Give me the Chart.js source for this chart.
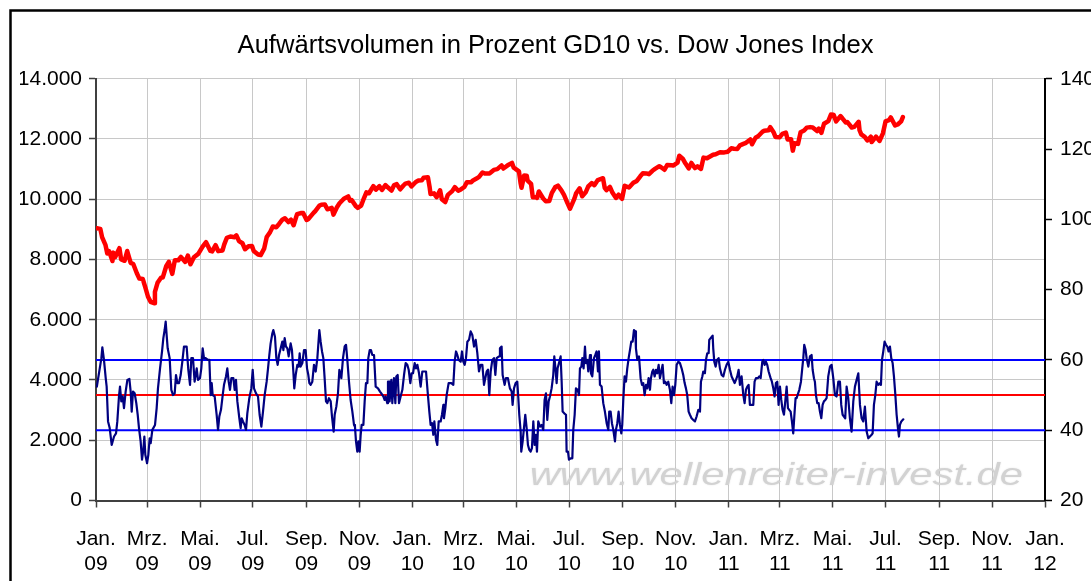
<!DOCTYPE html>
<html>
<head>
<meta charset="utf-8">
<title>Aufwärtsvolumen in Prozent GD10 vs. Dow Jones Index</title>
<script src="https://cdn.jsdelivr.net/npm/chart.js@4.4.1/dist/chart.umd.min.js"></script>
<style>
  html, body { margin: 0; padding: 0; background: #fff; }
  #wrap { position: relative; width: 1091px; height: 581px; }
</style>
</head>
<body>
<div id="wrap"><canvas id="chart" width="1091" height="581"></canvas></div>
<script>
// Dow Jones Index (linke Achse)
var dowDates = [
	'2009-01-02','2009-01-06','2009-01-08','2009-01-12','2009-01-14','2009-01-16','2009-01-20','2009-01-21','2009-01-23','2009-01-28',
	'2009-01-30','2009-02-03','2009-02-06','2009-02-10','2009-02-13','2009-02-17','2009-02-20','2009-02-24','2009-02-27','2009-03-02',
	'2009-03-05','2009-03-09','2009-03-10','2009-03-13','2009-03-17','2009-03-19','2009-03-23','2009-03-26','2009-03-30','2009-04-02',
	'2009-04-06','2009-04-09','2009-04-14','2009-04-17','2009-04-20','2009-04-24','2009-04-29','2009-05-04','2009-05-08','2009-05-13',
	'2009-05-15','2009-05-19','2009-05-22','2009-05-27','2009-05-29','2009-06-01','2009-06-05','2009-06-10','2009-06-12','2009-06-15',
	'2009-06-19','2009-06-22','2009-06-26','2009-06-30','2009-07-02','2009-07-07','2009-07-10','2009-07-14','2009-07-17','2009-07-21',
	'2009-07-24','2009-07-28','2009-07-31','2009-08-04','2009-08-07','2009-08-11','2009-08-14','2009-08-17','2009-08-21','2009-08-26',
	'2009-08-28','2009-09-01','2009-09-03','2009-09-09','2009-09-11','2009-09-16','2009-09-18','2009-09-22','2009-09-25','2009-09-30',
	'2009-10-02','2009-10-06','2009-10-09','2009-10-14','2009-10-19','2009-10-21','2009-10-23','2009-10-28','2009-10-30','2009-11-03',
	'2009-11-06','2009-11-09','2009-11-12','2009-11-17','2009-11-20','2009-11-24','2009-11-27','2009-12-01','2009-12-04','2009-12-08',
	'2009-12-11','2009-12-14','2009-12-18','2009-12-22','2009-12-24','2009-12-28','2009-12-31','2010-01-05','2010-01-08','2010-01-12',
	'2010-01-14','2010-01-19','2010-01-21','2010-01-22','2010-01-26','2010-01-29','2010-02-02','2010-02-04','2010-02-08','2010-02-11',
	'2010-02-16','2010-02-19','2010-02-23','2010-02-26','2010-03-02','2010-03-05','2010-03-10','2010-03-12','2010-03-16','2010-03-19',
	'2010-03-23','2010-03-26','2010-03-31','2010-04-05','2010-04-09','2010-04-14','2010-04-16','2010-04-21','2010-04-26','2010-04-28',
	'2010-04-30','2010-05-04','2010-05-06','2010-05-07','2010-05-10','2010-05-13','2010-05-14','2010-05-18','2010-05-20','2010-05-24',
	'2010-05-25','2010-05-27','2010-06-01','2010-06-04','2010-06-08','2010-06-11','2010-06-15','2010-06-18','2010-06-22','2010-06-25',
	'2010-06-29','2010-07-02','2010-07-07','2010-07-09','2010-07-13','2010-07-16','2010-07-20','2010-07-23','2010-07-27','2010-07-30',
	'2010-08-03','2010-08-09','2010-08-11','2010-08-13','2010-08-17','2010-08-20','2010-08-24','2010-08-27','2010-08-31','2010-09-03',
	'2010-09-08','2010-09-13','2010-09-17','2010-09-21','2010-09-24','2010-09-28','2010-10-01','2010-10-05','2010-10-08','2010-10-13',
	'2010-10-15','2010-10-19','2010-10-22','2010-10-27','2010-10-29','2010-11-03','2010-11-05','2010-11-09','2010-11-12','2010-11-16',
	'2010-11-19','2010-11-23','2010-11-26','2010-11-30','2010-12-03','2010-12-07','2010-12-10','2010-12-14','2010-12-17','2010-12-22',
	'2010-12-27','2010-12-31','2011-01-04','2011-01-07','2011-01-11','2011-01-14','2011-01-18','2011-01-21','2011-01-26','2011-01-28',
	'2011-02-01','2011-02-04','2011-02-09','2011-02-11','2011-02-16','2011-02-18','2011-02-22','2011-02-24','2011-03-01','2011-03-04',
	'2011-03-08','2011-03-10','2011-03-14','2011-03-16','2011-03-18','2011-03-22','2011-03-25','2011-03-29','2011-04-01','2011-04-05',
	'2011-04-08','2011-04-13','2011-04-15','2011-04-18','2011-04-21','2011-04-26','2011-04-29','2011-05-02','2011-05-05','2011-05-10',
	'2011-05-12','2011-05-16','2011-05-18','2011-05-23','2011-05-26','2011-05-31','2011-06-01','2011-06-03','2011-06-07','2011-06-10',
	'2011-06-14','2011-06-15','2011-06-20','2011-06-24','2011-06-28','2011-07-01','2011-07-05','2011-07-07','2011-07-12','2011-07-15',
	'2011-07-19','2011-07-21'
];
var dowValues = [
	9034, 9015, 8742, 8474, 8200, 8281, 7949, 8228, 8077, 8375,
	8001, 7957, 8280, 7888, 7850, 7552, 7366, 7351, 7063, 6763,
	6594, 6547, 6926, 7224, 7395, 7400, 7776, 7924, 7523, 7978,
	7975, 8083, 7920, 8131, 7841, 8076, 8185, 8426, 8575, 8284,
	8268, 8475, 8277, 8300, 8500, 8721, 8763, 8739, 8799, 8612,
	8539, 8339, 8438, 8447, 8280, 8163, 8146, 8359, 8743, 8916,
	9093, 9070, 9172, 9320, 9370, 9242, 9321, 9136, 9506, 9543,
	9544, 9310, 9345, 9547, 9605, 9792, 9820, 9829, 9666, 9712,
	9488, 9732, 9865, 10016, 10093, 9950, 9972, 9763, 9713, 9789,
	10023, 10227, 10198, 10437, 10318, 10433, 10310, 10472, 10389, 10286,
	10471, 10501, 10329, 10464, 10520, 10548, 10428, 10573, 10619, 10627,
	10711, 10726, 10390, 10173, 10194, 10067, 10297, 10002, 9908, 10144,
	10268, 10402, 10283, 10325, 10405, 10567, 10567, 10625, 10686, 10742,
	10889, 10851, 10857, 10974, 10998, 11124, 11019, 11125, 11205, 11046,
	11009, 10926, 10520, 10380, 10785, 10782, 10620, 10510, 10068, 10067,
	10043, 10258, 10025, 9931, 9940, 10212, 10405, 10450, 10294, 10143,
	9870, 9686, 10019, 10198, 10364, 10097, 10230, 10424, 10537, 10466,
	10636, 10698, 10379, 10303, 10406, 10213, 10041, 10150, 10015, 10448,
	10388, 10544, 10607, 10761, 10860, 10858, 10830, 10944, 11006, 11096,
	11063, 10978, 11133, 11127, 11118, 11215, 11445, 11346, 11193, 11024,
	11204, 11036, 11092, 11006, 11382, 11360, 11410, 11476, 11492, 11559,
	11555, 11578, 11691, 11674, 11671, 11787, 11837, 11871, 11985, 11824,
	12040, 12092, 12240, 12273, 12288, 12391, 12213, 12068, 12058, 12169,
	12214, 11984, 11993, 11613, 11858, 11837, 12220, 12280, 12376, 12394,
	12380, 12263, 12342, 12201, 12505, 12595, 12811, 12808, 12584, 12761,
	12695, 12548, 12560, 12381, 12402, 12570, 12290, 12151, 12070, 11952,
	12076, 11897, 12080, 11934, 12188, 12582, 12626, 12719, 12447, 12480,
	12587, 12724
];

// Aufwärtsvolumen in Prozent, GD10 (rechte Achse) - Tage seit 01.01.2009
var gdDays = [
	1, 6.2, 7.3, 9.2, 11.2, 12.3, 13.9, 15.8, 18.1, 20.8,
	23.1, 24.6, 26.5, 27.7, 29.2, 30.8, 32.3, 34.2, 36.2, 38.5,
	40.0, 41.2, 42.7, 44.6, 46.5, 48.1, 49.6, 51.5, 53.1, 54.6,
	55.8, 56.9, 58.9, 60.4, 61.9, 63.1, 65.0, 68.1, 70.0, 71.5,
	73.9, 76.2, 77.7, 79.2, 80.4, 81.5, 82.7, 85.0, 86.9, 88.9,
	90.8, 92.3, 93.9, 95.8, 97.7, 99.6, 101.5, 104.6, 106.5, 108.5,
	110.0, 111.9, 113.8, 116.2, 117.7, 120.0, 121.5, 123.1, 124.6, 126.5,
	129.2, 130.8, 132.3, 133.5, 134.6, 136.9, 139.2, 140.8, 142.3, 144.2,
	146.2, 147.7, 150.0, 151.5, 153.1, 154.6, 156.2, 158.5, 160.0, 161.5,
	163.1, 165.4, 166.9, 168.1, 169.6, 171.5, 173.1, 174.6, 176.9, 179.2,
	180.8, 182.3, 184.6, 186.9, 188.8, 190.8, 192.7, 194.6, 196.9, 198.5,
	200.0, 201.5, 203.5, 204.6, 206.5, 208.1, 209.6, 211.2, 213.1, 215.0,
	216.2, 217.7, 219.2, 220.8, 222.3, 224.6, 226.1, 227.7, 228.8, 230.4,
	232.3, 233.8, 235.0, 236.1, 238.1, 240.0, 241.9, 243.5, 245.0, 246.2,
	247.7, 249.6, 251.5, 253.5, 255.4, 257.7, 259.2, 260.8, 262.3, 263.8,
	265.4, 266.9, 268.8, 270.8, 272.3, 274.2, 275.4, 277.3, 279.2, 280.8,
	283.1, 285.0, 286.9, 288.5, 290.0, 291.9, 293.8, 295.8, 297.7, 298.8,
	300.0, 301.5, 302.7, 304.2, 305.4, 306.5, 308.5, 310.0, 311.5, 313.1,
	314.2, 315.8, 317.3, 318.8, 320.8, 322.7, 325.4, 327.7, 329.2, 331.5,
	333.1, 334.2, 336.1, 336.9, 338.1, 338.8, 340.8, 341.9, 343.8, 345.4,
	346.5, 348.1, 349.6, 351.5, 353.5, 355.4, 357.3, 359.2, 360.8, 362.7,
	364.2, 365.8, 367.7, 369.2, 370.8, 372.7, 374.6, 376.5, 378.5, 380.8,
	383.1, 384.6, 386.1, 387.7, 389.2, 390.4, 392.3, 393.8, 395.4, 397.7,
	399.2, 400.8, 401.5, 403.1, 404.6, 406.9, 410.0, 412.3, 413.8, 415.4,
	416.9, 418.5, 420.8, 422.3, 423.8, 425.4, 426.9, 428.5, 430.4, 432.3,
	434.2, 436.2, 438.1, 440.0, 441.9, 443.8, 445.8, 447.7, 449.6, 450.8,
	452.3, 453.8, 455.4, 457.3, 459.2, 460.8, 462.3, 465.0, 466.1, 468.0,
	469.2, 471.5, 473.0, 475.3, 477.6, 479.6, 480.7, 482.3, 484.2, 486.1,
	487.3, 488.4, 490.0, 490.7, 492.3, 493.8, 495.3, 496.9, 498.4, 500.0,
	501.5, 503.0, 504.6, 506.1, 507.6, 508.8, 510.3, 512.3, 514.2, 516.1,
	517.6, 519.2, 520.7, 522.3, 523.8, 525.7, 527.6, 528.8, 530.3, 531.5,
	532.6, 534.6, 536.1, 537.3, 538.4, 540.3, 542.3, 543.0, 544.6, 545.7,
	547.6, 549.6, 550.7, 552.3, 553.8, 555.7, 557.3, 558.4, 560.0, 561.1,
	562.6, 564.2, 565.3, 566.9, 568.0, 570.0, 571.1, 572.6, 574.6, 576.1,
	577.6, 579.2, 580.3, 581.5, 583.4, 585.3, 587.2, 589.2, 591.1, 592.2,
	593.8, 595.3, 596.9, 598.8, 599.9, 601.5, 603.0, 604.6, 606.1, 607.2,
	608.4, 609.9, 611.5, 613.0, 614.6, 616.1, 617.6, 619.2, 620.7, 622.2,
	623.0, 624.6, 626.5, 628.4, 630.0, 631.5, 633.0, 634.6, 636.1, 637.6,
	639.2, 640.3, 641.9, 643.0, 644.6, 646.1, 647.6, 649.2, 650.7, 652.2,
	653.8, 655.3, 656.9, 658.4, 660.3, 662.2, 663.8, 665.3, 666.9, 668.4,
	670.0, 671.9, 673.8, 675.7, 677.6, 679.2, 680.7, 682.2, 683.8, 685.3,
	687.2, 689.2, 691.1, 693.0, 695.0, 696.9, 698.0, 699.6, 700.7, 702.6,
	703.8, 705.3, 706.9, 707.6, 709.2, 711.5, 712.2, 713.4, 715.0, 716.5,
	718.4, 719.9, 721.9, 723.8, 725.7, 727.6, 729.6, 731.5, 733.4, 735.3,
	736.9, 738.4, 739.9, 741.5, 743.0, 744.9, 746.9, 748.4, 749.9, 751.5,
	753.0, 754.5, 756.5, 758.4, 759.9, 761.5, 763.8, 765.3, 766.9, 768.8,
	769.9, 771.5, 773.0, 774.5, 776.1, 778.4, 779.9, 781.5, 783.0, 784.5,
	786.1, 787.6, 789.2, 790.7, 792.2, 793.8, 795.3, 796.9, 798.4, 799.9,
	801.5, 803.0, 804.5, 806.1, 807.2, 808.4, 809.5, 811.5, 813.4, 814.9,
	816.1, 817.2, 818.8, 819.9, 821.9, 823.8, 825.7, 826.9, 828.4, 829.5,
	830.7, 832.2, 833.8, 835.3, 836.9, 838.4, 839.9, 841.5, 843.0, 844.9,
	846.9, 848.8, 850.7, 852.6, 854.5, 856.5, 858.4, 859.9, 861.5, 863.0,
	864.5, 866.1, 868.0, 869.9, 871.8, 873.8, 875.7, 877.6, 879.6, 881.5,
	883.4, 885.3, 887.2, 889.2, 891.1, 893.0, 894.9, 896.1, 897.6, 899.2,
	900.7, 902.6, 904.6, 905.7, 906.9, 908.4, 909.9, 911.5, 913.0, 914.5,
	916.1, 917.6, 919.2, 920.7, 922.2, 923.8, 925.3, 926.5, 927.6, 929.2,
	931.5
];
var gdValues = [
	52.4, 60.5, 63.6, 60.0, 54.8, 52.4, 42.5, 40.6, 35.8, 38.2,
	39.1, 42.5, 49.6, 52.4, 48.2, 49.6, 46.3, 51.0, 54.3, 54.6,
	51.0, 45.3, 51.0, 50.5, 47.7, 44.4, 40.6, 36.8, 31.6, 34.4,
	38.2, 33.0, 30.6, 33.0, 37.7, 36.3, 40.1, 41.5, 46.3, 51.9,
	57.6, 62.4, 66.2, 68.5, 70.9, 67.1, 63.3, 60.5, 51.5, 50.0,
	50.5, 55.7, 53.4, 53.4, 55.7, 59.5, 63.8, 63.8, 57.2, 52.9,
	60.5, 60.5, 53.8, 57.6, 54.3, 54.8, 57.6, 63.3, 60.5, 60.5,
	60.0, 60.0, 50.0, 53.4, 50.0, 49.6, 44.4, 40.1, 43.9, 45.8,
	50.0, 52.9, 55.3, 57.6, 53.8, 51.5, 54.8, 54.8, 51.5, 54.3,
	48.2, 43.4, 40.6, 43.4, 42.5, 41.5, 40.1, 44.8, 49.1, 51.9,
	57.2, 51.9, 50.5, 49.6, 44.4, 41.0, 45.3, 50.0, 53.8, 57.6,
	61.4, 64.7, 67.6, 68.5, 66.6, 60.5, 58.6, 61.4, 63.3, 65.2,
	62.8, 66.2, 63.8, 63.3, 61.0, 64.7, 62.8, 56.7, 51.9, 55.7,
	58.6, 58.1, 61.9, 58.1, 59.1, 62.8, 62.8, 57.6, 55.7, 53.4,
	52.9, 53.8, 58.6, 56.7, 60.5, 68.5, 65.2, 62.4, 60.5, 54.8,
	48.2, 47.7, 49.1, 48.2, 43.9, 39.6, 44.4, 46.7, 50.5, 57.2,
	54.8, 60.5, 63.8, 64.3, 60.0, 53.8, 48.6, 45.3, 41.5, 41.0,
	36.8, 33.9, 36.8, 33.9, 38.7, 41.5, 41.5, 48.2, 53.4, 53.4,
	60.5, 62.8, 62.8, 61.4, 61.4, 52.4, 51.9, 51.0, 50.5, 49.6,
	48.6, 49.6, 47.7, 53.8, 53.8, 48.2, 54.3, 47.7, 54.8, 47.7,
	55.3, 55.7, 47.7, 49.6, 51.5, 55.7, 59.1, 58.6, 57.2, 53.4,
	56.2, 56.2, 59.1, 57.6, 58.6, 56.2, 52.4, 56.7, 56.7, 56.7,
	49.6, 45.3, 41.5, 42.0, 38.7, 42.5, 37.3, 35.8, 42.5, 42.5,
	44.4, 47.2, 43.4, 46.3, 50.0, 53.4, 53.4, 52.9, 59.5, 62.4,
	61.4, 60.0, 59.5, 62.4, 59.5, 58.6, 60.5, 65.2, 65.7, 68.1,
	67.1, 63.8, 65.7, 61.9, 56.7, 58.6, 58.6, 52.9, 55.3, 56.7,
	57.2, 50.0, 56.7, 60.0, 60.5, 55.7, 60.5, 61.0, 63.3, 63.8,
	55.7, 52.9, 54.8, 54.8, 51.9, 51.0, 47.2, 51.9, 53.4, 53.8,
	49.1, 44.4, 39.6, 33.9, 36.8, 40.6, 44.4, 40.6, 35.8, 34.4,
	33.9, 34.9, 42.5, 35.8, 38.7, 33.9, 42.5, 41.0, 41.5, 40.1,
	48.6, 50.5, 42.9, 48.2, 49.6, 51.9, 55.7, 61.0, 57.2, 53.4,
	57.6, 59.5, 61.0, 53.8, 45.3, 44.8, 44.4, 33.9, 33.9, 31.6,
	32.0, 32.0, 40.1, 44.4, 51.9, 51.5, 50.0, 57.6, 58.1, 60.5,
	57.6, 63.8, 59.1, 60.0, 56.7, 61.4, 56.2, 55.3, 60.5, 61.4,
	62.4, 56.7, 62.4, 52.9, 52.4, 47.7, 45.3, 42.0, 40.1, 45.3,
	45.3, 42.0, 40.1, 36.8, 40.1, 42.0, 45.3, 41.5, 39.1, 41.5,
	48.6, 55.3, 53.8, 57.6, 60.5, 62.8, 65.2, 65.2, 68.5, 68.1,
	63.3, 60.0, 61.0, 54.8, 52.9, 53.4, 50.0, 52.9, 51.9, 54.8,
	51.5, 54.8, 56.7, 57.2, 55.3, 57.2, 56.2, 58.6, 54.8, 56.7,
	58.6, 53.4, 53.8, 52.9, 53.8, 51.5, 47.7, 52.4, 50.0, 52.9,
	58.6, 59.5, 59.1, 57.6, 55.7, 53.4, 51.9, 50.0, 45.3, 44.4,
	43.4, 42.9, 42.5, 43.9, 45.8, 45.3, 53.8, 55.3, 56.7, 56.2,
	60.0, 61.9, 61.9, 65.7, 66.2, 66.9, 63.3, 59.5, 58.1, 60.0,
	60.5, 57.6, 55.7, 55.3, 57.2, 58.6, 59.5, 57.2, 55.3, 54.3,
	53.4, 54.3, 55.3, 57.2, 52.9, 55.3, 50.0, 47.7, 51.5, 52.4,
	52.9, 47.2, 47.2, 47.2, 53.8, 54.8, 54.8, 55.3, 54.8, 59.5,
	60.0, 58.6, 59.5, 58.6, 56.7, 54.8, 53.8, 51.9, 49.6, 53.4,
	53.8, 47.2, 52.4, 48.6, 45.8, 44.4, 48.2, 52.4, 46.3, 45.8,
	45.3, 42.5, 39.1, 45.3, 49.1, 49.1, 50.0, 51.5, 53.8, 57.6,
	60.5, 64.3, 62.8, 60.5, 58.1, 61.0, 61.4, 57.2, 54.8, 53.8,
	50.0, 47.7, 47.7, 45.3, 43.4, 47.2, 48.2, 48.6, 49.1, 55.3,
	58.1, 58.6, 54.8, 50.0, 49.6, 53.8, 53.8, 47.2, 44.4, 43.9,
	43.4, 52.4, 49.1, 43.4, 39.6, 48.2, 52.4, 54.3, 56.2, 47.2,
	43.4, 42.5, 46.7, 39.6, 37.7, 38.2, 38.7, 39.1, 47.2, 50.0,
	53.8, 52.9, 53.4, 52.9, 60.0, 62.4, 65.2, 64.3, 63.8, 62.4,
	63.8, 60.5, 59.1, 55.3, 50.5, 44.4, 40.6, 38.2, 41.5, 42.5,
	43.1
];

// Grenzlinien (rechte Achse)
var levelUpper = 60;
var levelMid = 50;
var levelLower = 40;

// Achsen
var monthNames = ['Jan.', 'Feb.', 'Mrz.', 'Apr.', 'Mai.', 'Jun.', 'Jul.', 'Aug.', 'Sep.', 'Okt.', 'Nov.', 'Dez.'];
var axisStart = [2009, 0];   // Jan. 09
var axisMonths = 36;         // bis Jan. 12
var axisStepMonths = 2;
var leftMin = 0, leftMax = 14000, leftStep = 2000;
var rightMin = 20, rightMax = 140, rightStep = 20;

var TITLE = 'Aufwärtsvolumen in Prozent GD10 vs. Dow Jones Index';
var WATERMARK = 'www.wellenreiter-invest.de';
var FONT = '"Liberation Sans", Arial, sans-serif';

var DAY = 86400000;
var BASE = Date.UTC(2009, 0, 1);

function dayOf(str) {
	var p = str.split('-');
	return (Date.UTC(+p[0], +p[1] - 1, +p[2]) - BASE) / DAY;
}

function germanNumber(v) {
	return String(v).replace(/\B(?=(\d{3})+(?!\d))/g, '.');
}

// Monatsticks alle 2 Monate
var tickDays = [], tickLabels = [];
for (var m = 0; m <= axisMonths; m += axisStepMonths) {
	var d = new Date(Date.UTC(axisStart[0], axisStart[1] + m, 1));
	tickDays.push((d.getTime() - BASE) / DAY);
	tickLabels.push([monthNames[d.getUTCMonth()], String(d.getUTCFullYear()).slice(2)]);
}
var xMax = tickDays[tickDays.length - 1];

function levelLine(v) {
	return [{x: 0, y: v}, {x: xMax, y: v}];
}

var dowData = dowDates.map(function (s, i) { return {x: dayOf(s), y: dowValues[i]}; });
var gdData = gdDays.map(function (t, i) { return {x: t, y: gdValues[i]}; });

// Rahmen um das ganze Diagramm
var framePlugin = {
	id: 'frame',
	afterDraw: function (chart) {
		var ctx = chart.ctx;
		ctx.save();
		ctx.strokeStyle = '#000';
		ctx.lineWidth = 2.5;
		ctx.beginPath();
		ctx.moveTo(10.5, chart.height);
		ctx.lineTo(10.5, 10.5);
		ctx.lineTo(chart.width, 10.5);
		ctx.stroke();
		ctx.restore();
	}
};

// Wasserzeichen hinter den Linien
var watermarkPlugin = {
	id: 'watermark',
	beforeDatasetsDraw: function (chart) {
		var ctx = chart.ctx;
		var area = chart.chartArea;
		ctx.save();
		ctx.font = 'italic 32px ' + FONT;
		var w = ctx.measureText(WATERMARK).width;
		var left = area.left + (area.right - area.left) * 0.457;
		var right = area.right - 22;
		ctx.translate(left, area.bottom - 15.5);
		ctx.scale((right - left) / w, 1);
		ctx.fillStyle = '#d2d2d2';
		ctx.shadowColor = 'rgba(0,0,0,0.10)';
		ctx.shadowBlur = 2;
		ctx.fillText(WATERMARK, 0, 0);
		ctx.restore();
	}
};

var tickFont = {family: FONT, size: 21, lineHeight: 1.2};

var chart = new Chart(document.getElementById('chart'), {
	type: 'line',
	data: {
		datasets: [
			{ data: dowData, yAxisID: 'yL', borderColor: '#ff0000', borderWidth: 4.5 },
			{ data: gdData, yAxisID: 'yR', borderColor: '#000080', borderWidth: 2.2 },
			{ data: levelLine(levelUpper), yAxisID: 'yR', borderColor: '#0000ff', borderWidth: 2 },
			{ data: levelLine(levelMid), yAxisID: 'yR', borderColor: '#ff0000', borderWidth: 2 },
			{ data: levelLine(levelLower), yAxisID: 'yR', borderColor: '#0000ff', borderWidth: 2 }
		]
	},
	options: {
		responsive: false,
		animation: false,
		devicePixelRatio: 1,
		layout: { padding: { left: 20, right: 0, top: 0, bottom: 0 } },
		elements: {
			point: { radius: 0, hoverRadius: 0 },
			line: { tension: 0, borderCapStyle: 'round', borderJoinStyle: 'round', fill: false }
		},
		plugins: {
			legend: { display: false },
			tooltip: { enabled: false },
			title: {
				display: true,
				text: TITLE,
				color: '#000',
				font: { family: FONT, size: 25.6, weight: 'normal', lineHeight: 1.2 },
				padding: { top: 31, bottom: 17 }
			}
		},
		scales: {
			x: {
				type: 'linear',
				min: 0,
				max: xMax,
				afterBuildTicks: function (scale) {
					scale.ticks = tickDays.map(function (d) { return {value: d}; });
				},
				afterFit: function (scale) { scale.height = 80.5; },
				ticks: {
					autoSkip: false,
					maxRotation: 0,
					minRotation: 0,
					color: '#000',
					font: tickFont,
					padding: 19,
					callback: function (value, index) { return tickLabels[index]; }
				},
				grid: { color: '#c8c8c8', lineWidth: 1, tickLength: 7, tickColor: '#404040', tickWidth: 1.5 },
				border: { color: '#404040', width: 2 }
			},
			yL: {
				position: 'left',
				min: leftMin,
				max: leftMax,
				afterFit: function (scale) { scale.width = 76; },
				ticks: {
					stepSize: leftStep,
					color: '#000',
					font: tickFont,
					padding: 7,
					callback: function (v) { return germanNumber(v); }
				},
				grid: { color: '#c8c8c8', lineWidth: 1, tickLength: 7, tickColor: '#404040', tickWidth: 1.5 },
				border: { color: '#404040', width: 2 }
			},
			yR: {
				position: 'right',
				min: rightMin,
				max: rightMax,
				afterFit: function (scale) { scale.width = 46; },
				ticks: {
					stepSize: rightStep,
					color: '#000',
					font: tickFont,
					padding: 8
				},
				grid: { drawOnChartArea: false, tickLength: 7, tickColor: '#000', tickWidth: 1.5 },
				border: { color: '#000', width: 2 }
			}
		}
	},
	plugins: [watermarkPlugin, framePlugin]
});
</script>
</body>
</html>
